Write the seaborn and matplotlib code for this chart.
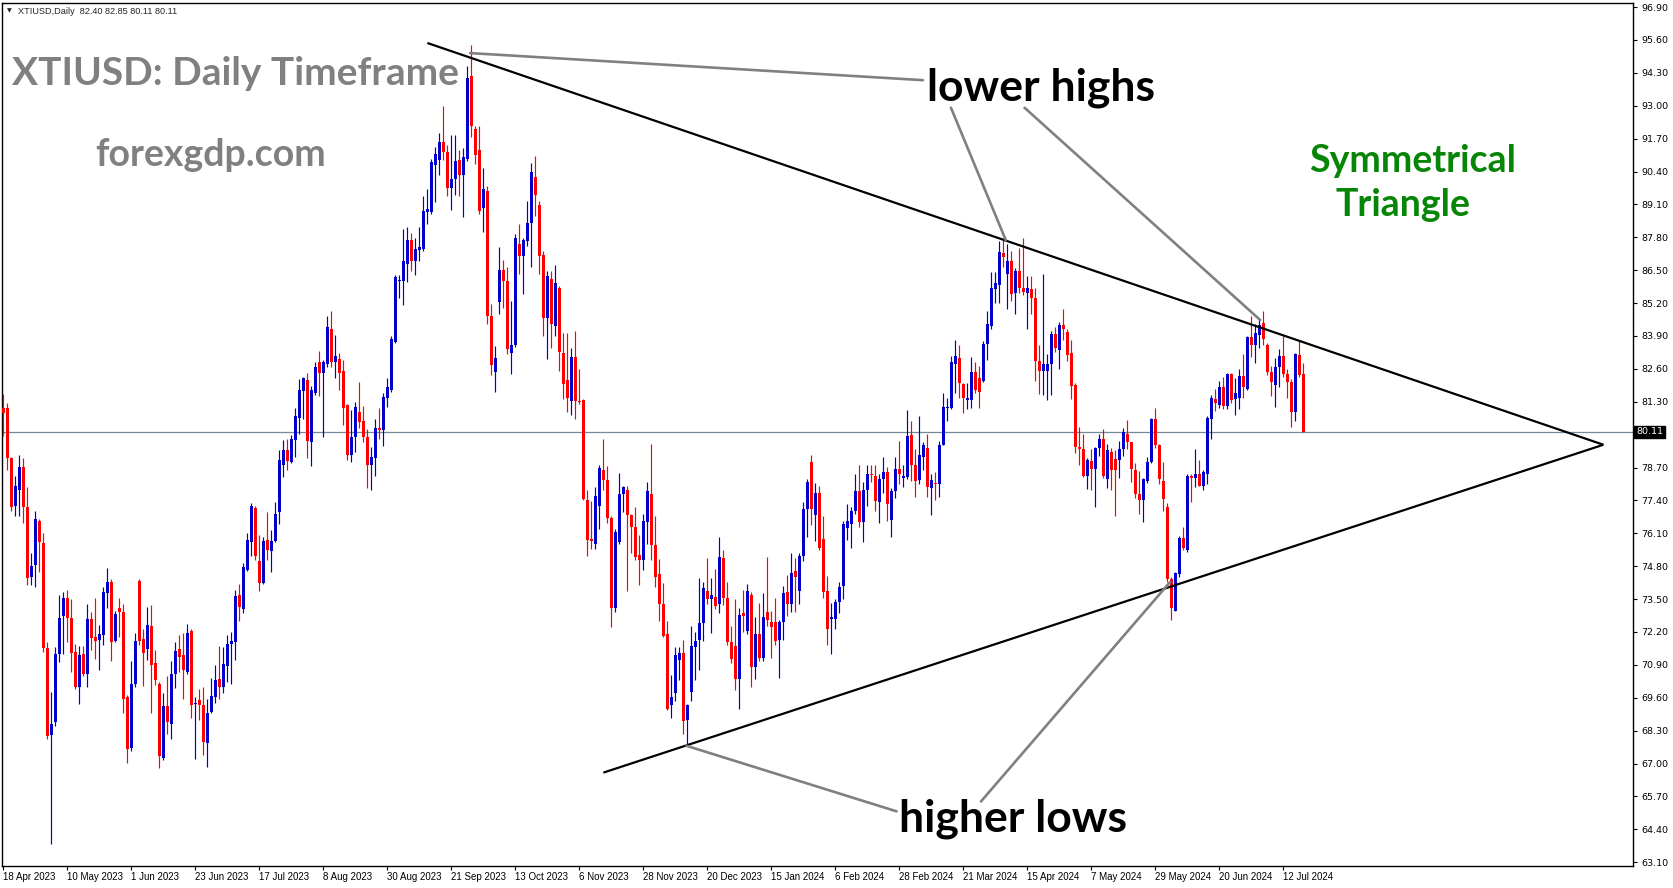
import numpy as np
import pandas as pd
import matplotlib
matplotlib.use("Agg")
import matplotlib.pyplot as plt
import matplotlib.transforms as mtransforms
import seaborn as sns

# ---------------- data ----------------
opens = [
    81.04, 81.04, 79.06, 77.19, 77.82, 78.71, 77.15, 74.39, 74.85, 76.59,
    75.70, 71.55, 68.12, 68.66, 71.34, 72.83, 73.54, 72.77, 71.42, 70.03,
    71.32, 70.55, 72.73, 72.00, 71.90, 72.07, 73.73, 74.18, 71.86, 73.15,
    72.98, 69.61, 67.60, 70.13, 74.22, 71.94, 71.53, 72.42, 70.96, 70.13,
    67.23, 69.26, 68.58, 70.55, 71.53, 71.28, 70.61, 72.25, 69.37, 69.51,
    69.30, 67.81, 69.05, 69.61, 70.34, 70.03, 70.86, 71.73, 71.80, 73.66,
    73.10, 74.66, 75.74, 77.09, 75.01, 74.14, 75.84, 75.39, 75.80, 76.95,
    78.81, 79.38, 78.90, 79.79, 80.66, 81.72, 82.14, 79.69, 81.66, 82.86,
    82.45, 82.80, 84.19, 82.88, 82.99, 82.53, 81.18, 79.21, 79.92, 80.89,
    80.52, 79.92, 78.81, 79.08, 80.27, 80.17, 81.45, 81.76, 83.67, 86.06,
    86.06, 86.75, 87.70, 86.85, 87.31, 87.33, 88.80, 88.78, 90.67, 90.84,
    91.55, 91.19, 89.74, 90.09, 90.86, 90.26, 90.88, 94.16, 92.09, 91.25,
    88.97, 89.63, 84.67, 82.49, 85.25, 86.52, 86.06, 83.22, 83.53, 87.52,
    87.06, 87.64, 88.35, 90.17, 89.07, 87.10, 84.61, 86.17, 84.30, 85.79,
    83.22, 82.14, 81.33, 83.05, 81.33, 81.35, 77.40, 75.88, 75.68, 77.19,
    78.59, 78.19, 76.72, 73.15, 75.74, 77.65, 77.80, 76.82, 76.34, 75.26,
    75.05, 76.53, 77.67, 75.64, 74.50, 73.29, 72.11, 69.30, 69.78, 71.11,
    71.38, 68.74, 69.82, 71.59, 71.90, 72.56, 73.81, 73.50, 73.60, 73.31,
    75.12, 73.56, 71.80, 71.65, 70.34, 72.94, 72.25, 73.66, 70.82, 72.11,
    71.17, 72.98, 72.59, 72.59, 71.90, 72.59, 73.77, 73.31, 74.60, 73.81,
    75.22, 77.05, 78.92, 76.84, 77.71, 75.88, 73.81, 72.73, 72.73, 73.39,
    74.02, 76.32, 76.47, 76.99, 77.76, 76.53, 77.82, 78.44, 78.38, 77.34,
    78.23, 78.54, 76.63, 77.76, 78.65, 78.30, 78.34, 80.00, 78.79, 78.19,
    79.13, 79.48, 77.88, 78.09, 78.03, 79.58, 81.04, 81.04, 82.80, 83.01,
    82.01, 81.35, 81.35, 82.49, 82.24, 82.12, 83.57, 84.30, 85.77, 85.92,
    87.16, 86.33, 86.85, 85.61, 86.48, 85.81, 85.61, 85.77, 85.40, 82.90,
    82.53, 82.53, 82.80, 83.99, 83.36, 84.32, 84.05, 83.22, 81.97, 79.52,
    79.44, 78.38, 78.96, 78.65, 79.48, 79.83, 78.23, 79.33, 79.02, 79.00,
    79.42, 80.04, 79.69, 78.59, 77.67, 77.40, 78.17, 78.92, 80.62, 79.58,
    78.17, 77.15, 74.29, 73.04, 74.50, 75.91, 75.43, 78.38, 78.30, 78.44,
    77.96, 78.44, 80.62, 81.39, 81.18, 81.87, 81.14, 82.39, 81.39, 81.45,
    82.33, 81.80, 83.84, 83.53, 83.95, 84.40, 83.53, 82.49, 81.97, 82.66,
    83.11, 82.39, 82.07, 80.89, 83.16, 82.40,
]
highs = [
    81.60, 81.24, 79.10, 78.38, 79.21, 79.06, 77.92, 75.33, 76.99, 76.68,
    76.11, 71.80, 69.82, 71.59, 73.66, 73.77, 73.87, 73.52, 71.73, 71.65,
    71.65, 73.31, 72.98, 73.56, 72.48, 73.98, 74.72, 74.29, 73.04, 73.56,
    73.31, 69.72, 71.07, 72.15, 74.29, 72.32, 73.19, 73.25, 71.48, 70.24,
    69.78, 70.45, 71.07, 71.80, 72.07, 72.15, 72.52, 72.32, 69.61, 69.93,
    70.03, 69.57, 70.40, 70.90, 71.65, 71.59, 72.07, 72.21, 73.87, 74.08,
    74.91, 76.11, 77.30, 77.19, 76.05, 75.95, 76.93, 76.22, 77.34, 79.38,
    79.79, 79.83, 80.00, 81.04, 82.18, 82.28, 82.45, 81.91, 82.86, 83.32,
    82.95, 84.67, 84.88, 83.94, 83.22, 82.95, 81.20, 80.97, 81.29, 82.08,
    81.12, 80.21, 79.52, 80.62, 81.04, 81.66, 82.24, 83.90, 86.29, 86.29,
    88.14, 88.20, 87.95, 87.78, 88.20, 89.43, 89.70, 90.90, 91.38, 91.94,
    92.98, 91.46, 91.84, 91.84, 91.25, 91.32, 94.58, 95.41, 92.19, 92.19,
    90.55, 89.82, 85.15, 83.49, 87.41, 86.89, 86.64, 85.27, 87.93, 88.31,
    87.79, 89.24, 90.74, 91.01, 89.24, 87.27, 86.48, 86.48, 86.71, 85.86,
    84.03, 84.03, 83.42, 84.11, 82.61, 81.41, 77.82, 77.36, 77.92, 78.79,
    79.83, 78.75, 76.78, 76.26, 78.50, 77.98, 77.96, 76.88, 77.13, 76.05,
    76.88, 78.13, 79.63, 76.78, 75.08, 74.12, 72.63, 70.49, 71.59, 71.59,
    71.90, 69.34, 72.42, 72.21, 74.33, 74.18, 75.12, 74.35, 74.70, 75.95,
    75.43, 74.18, 72.42, 73.52, 73.15, 73.87, 74.08, 73.77, 72.79, 73.35,
    73.73, 75.18, 73.04, 73.56, 72.69, 74.02, 74.45, 75.33, 75.12, 75.33,
    77.34, 78.23, 79.21, 78.09, 77.96, 76.78, 74.43, 73.35, 73.52, 74.18,
    76.57, 77.26, 77.13, 78.44, 78.79, 78.13, 78.79, 78.79, 78.79, 78.44,
    79.13, 78.71, 77.88, 79.13, 79.75, 78.79, 80.97, 80.52, 79.42, 80.73,
    79.69, 80.04, 78.44, 78.54, 79.75, 81.66, 81.45, 83.11, 83.74, 83.53,
    82.03, 82.03, 83.07, 82.86, 82.70, 83.70, 84.88, 86.44, 86.44, 87.64,
    87.72, 87.52, 87.27, 86.58, 87.37, 87.79, 86.27, 86.27, 85.81, 83.53,
    86.33, 83.18, 84.11, 84.26, 84.46, 84.98, 84.19, 83.74, 82.03, 80.31,
    80.04, 79.06, 79.42, 79.52, 80.04, 80.21, 79.63, 79.48, 79.38, 79.75,
    80.25, 80.58, 79.69, 78.86, 78.55, 78.28, 79.13, 80.66, 81.04, 79.63,
    78.92, 77.30, 74.39, 74.56, 75.99, 76.36, 78.44, 78.44, 79.44, 79.00,
    78.59, 80.73, 81.56, 81.80, 82.12, 82.28, 82.43, 82.43, 82.24, 82.59,
    83.18, 83.90, 84.67, 84.36, 84.61, 84.88, 83.63, 82.70, 83.01, 83.38,
    83.90, 82.59, 82.18, 83.22, 83.74, 82.85,
]
lows = [
    79.96, 78.59, 76.99, 76.78, 76.78, 76.51, 74.04, 74.04, 73.98, 74.56,
    71.42, 67.95, 63.80, 68.47, 71.03, 71.32, 71.80, 70.61, 69.93, 69.37,
    70.45, 70.03, 71.48, 71.13, 70.69, 71.69, 73.15, 71.07, 71.80, 72.00,
    68.99, 67.02, 67.48, 70.03, 71.69, 70.07, 71.11, 68.99, 70.09, 66.81,
    67.12, 68.16, 67.95, 69.99, 70.61, 69.57, 70.55, 68.78, 67.17, 68.74,
    67.33, 66.87, 68.99, 69.41, 69.57, 69.78, 70.24, 70.13, 71.11, 72.63,
    72.94, 74.60, 75.22, 75.05, 73.83, 74.08, 75.05, 74.56, 75.74, 76.47,
    78.34, 78.59, 78.86, 79.13, 80.04, 80.62, 79.06, 78.75, 81.56, 81.51,
    79.92, 82.66, 82.66, 82.24, 81.76, 80.37, 79.00, 78.92, 79.33, 80.27,
    79.71, 77.90, 77.80, 78.38, 79.81, 79.54, 81.08, 81.70, 83.61, 85.40,
    85.13, 86.02, 86.48, 86.29, 86.85, 87.27, 88.31, 88.74, 89.20, 90.28,
    90.84, 89.45, 88.87, 89.47, 89.43, 88.60, 90.80, 91.75, 90.69, 88.72,
    87.99, 84.36, 82.35, 81.68, 84.78, 85.02, 83.18, 82.39, 83.47, 86.33,
    85.56, 87.45, 86.64, 88.66, 86.33, 83.90, 82.99, 83.43, 83.90, 82.53,
    81.39, 80.89, 80.77, 80.62, 81.20, 77.40, 75.22, 75.47, 75.47, 76.26,
    77.82, 76.51, 72.38, 72.98, 75.68, 76.93, 73.81, 75.33, 75.05, 74.04,
    74.66, 75.68, 75.05, 73.98, 72.63, 72.00, 69.10, 68.78, 69.47, 70.30,
    68.16, 67.70, 69.47, 70.30, 70.69, 71.86, 73.31, 72.17, 73.10, 72.94,
    73.25, 71.69, 70.96, 69.89, 69.14, 72.21, 72.11, 70.03, 70.34, 71.07,
    71.07, 72.42, 71.17, 71.69, 70.40, 71.90, 72.83, 73.00, 72.98, 73.31,
    75.01, 75.95, 76.42, 75.78, 75.43, 73.56, 71.69, 71.34, 72.32, 72.94,
    73.52, 75.84, 75.53, 76.88, 76.36, 75.74, 77.19, 78.13, 76.99, 76.51,
    77.71, 76.57, 75.95, 77.51, 78.03, 77.92, 78.23, 78.17, 77.55, 78.03,
    78.59, 77.55, 76.84, 77.40, 77.55, 79.58, 80.52, 81.00, 81.66, 81.45,
    80.87, 81.00, 81.04, 81.66, 81.04, 82.07, 82.95, 84.19, 85.19, 85.19,
    86.64, 84.98, 85.30, 84.78, 85.61, 85.50, 84.19, 84.78, 82.12, 81.62,
    81.56, 81.35, 81.56, 83.28, 82.59, 83.74, 82.90, 81.41, 79.27, 78.79,
    78.34, 77.86, 77.82, 77.15, 79.17, 78.30, 77.88, 77.82, 76.78, 78.30,
    79.17, 79.42, 78.13, 77.51, 76.88, 76.53, 78.09, 78.86, 79.48, 78.03,
    76.99, 74.18, 72.69, 73.04, 74.39, 75.43, 75.37, 77.34, 77.92, 77.96,
    77.82, 78.03, 79.83, 80.93, 81.04, 81.00, 81.00, 81.24, 80.79, 81.00,
    81.45, 81.76, 83.07, 82.84, 83.42, 83.53, 82.35, 81.51, 81.08, 81.87,
    82.28, 81.45, 80.31, 80.52, 82.28, 80.11,
]
closes = [
    80.87, 79.06, 77.15, 77.96, 78.71, 77.15, 74.35, 74.81, 76.68, 75.74,
    71.55, 68.10, 68.58, 71.32, 72.77, 73.54, 72.77, 71.38, 70.03, 71.28,
    70.55, 72.73, 71.96, 71.84, 72.11, 73.77, 74.18, 71.80, 72.90, 72.98,
    69.57, 67.58, 70.13, 71.86, 71.86, 71.38, 72.46, 70.90, 70.30, 67.29,
    69.26, 68.64, 70.55, 71.44, 71.23, 70.69, 72.15, 69.30, 69.41, 69.30,
    67.85, 68.99, 69.66, 70.32, 70.03, 70.94, 71.73, 71.84, 73.62, 73.19,
    74.77, 75.84, 77.19, 75.22, 74.12, 75.78, 75.43, 75.80, 76.88, 79.00,
    79.38, 78.96, 79.83, 80.72, 81.78, 82.24, 79.75, 81.76, 82.66, 82.45,
    82.86, 84.24, 82.86, 83.09, 82.45, 81.04, 79.21, 79.92, 81.10, 80.48,
    79.92, 78.79, 79.13, 80.27, 80.17, 81.49, 81.87, 83.78, 86.23, 86.12,
    86.87, 87.70, 86.85, 87.35, 87.41, 88.85, 88.93, 90.76, 91.09, 91.55,
    91.19, 89.76, 90.09, 90.82, 90.28, 90.99, 94.10, 92.19, 91.07, 88.83,
    89.72, 84.69, 82.74, 83.01, 86.52, 86.06, 83.38, 83.53, 87.79, 87.06,
    87.68, 88.37, 90.38, 89.49, 87.06, 84.61, 86.27, 84.36, 86.00, 83.28,
    82.01, 81.45, 83.05, 81.31, 81.29, 77.47, 75.84, 75.80, 77.59, 78.67,
    78.19, 76.72, 73.15, 76.16, 77.65, 77.92, 76.84, 76.36, 75.16, 75.05,
    76.57, 77.76, 75.64, 74.39, 73.29, 72.04, 69.16, 69.61, 71.28, 71.38,
    68.68, 69.30, 71.65, 71.84, 72.56, 73.93, 73.50, 73.66, 73.21, 75.18,
    73.56, 71.80, 71.13, 70.34, 72.88, 72.83, 73.81, 70.80, 72.11, 71.17,
    72.79, 72.69, 72.38, 71.84, 72.59, 73.73, 73.31, 74.54, 74.39, 75.22,
    77.05, 78.13, 77.05, 77.71, 75.53, 73.77, 72.32, 72.79, 73.39, 73.98,
    76.45, 76.57, 76.99, 77.76, 76.53, 77.82, 78.44, 78.40, 77.36, 78.23,
    78.54, 77.26, 77.76, 78.65, 78.44, 78.38, 79.94, 78.79, 78.17, 79.21,
    79.58, 77.92, 78.19, 78.03, 79.58, 81.08, 81.10, 82.86, 83.11, 82.03,
    81.45, 81.45, 82.49, 81.76, 81.70, 83.57, 84.36, 85.81, 85.98, 87.21,
    87.02, 86.85, 85.54, 86.48, 85.81, 85.65, 85.81, 85.40, 82.90, 82.53,
    82.80, 82.80, 83.99, 83.42, 84.32, 84.19, 83.16, 81.93, 79.52, 79.44,
    78.38, 79.00, 78.65, 79.48, 79.83, 78.38, 79.38, 78.59, 78.59, 79.44,
    80.10, 79.69, 78.65, 77.67, 77.40, 78.23, 78.92, 80.62, 79.58, 78.23,
    77.44, 74.29, 73.15, 74.54, 75.91, 75.53, 78.38, 78.28, 78.44, 77.98,
    78.54, 80.66, 81.45, 81.24, 81.87, 81.14, 82.39, 81.35, 81.66, 82.33,
    81.87, 83.84, 83.53, 84.01, 84.32, 83.78, 82.49, 82.07, 82.66, 83.11,
    82.39, 82.07, 80.89, 83.18, 82.35, 80.11,
]

date_labels = ["18 Apr 2023", "10 May 2023", "1 Jun 2023", "23 Jun 2023",
               "17 Jul 2023", "8 Aug 2023", "30 Aug 2023", "21 Sep 2023",
               "13 Oct 2023", "6 Nov 2023", "28 Nov 2023", "20 Dec 2023",
               "15 Jan 2024", "6 Feb 2024", "28 Feb 2024", "21 Mar 2024",
               "15 Apr 2024", "7 May 2024", "29 May 2024", "20 Jun 2024",
               "12 Jul 2024"]
price_tick_labels = ["96.90", "95.60", "94.30", "93.00", "91.70", "90.40",
                     "89.10", "87.80", "86.50", "85.20", "83.90", "82.60",
                     "81.30", "80.00", "78.70", "77.40", "76.10", "74.80",
                     "73.50", "72.20", "70.90", "69.60", "68.30", "67.00",
                     "65.70", "64.40", "63.10"]

# trend lines (bar index, price)
upper_line_x = [106.0, 400.0]
upper_line_y = [95.48, 79.60]
lower_line_x = [150.0, 400.0]
lower_line_y = [66.64, 79.60]
# grey pointer lines
pointer_lines = {
    "lh1": ([116.7, 229.9], [95.08, 94.01]),
    "lh2": ([236.9, 250.6], [92.92, 87.69]),
    "lh3": ([255.3, 314.2], [92.92, 84.53]),
    "hl1": ([170.8, 223.3], [67.70, 65.11]),
    "hl2": ([244.4, 291.7], [65.50, 74.18]),
}

# ---------------- styling ----------------
sns.set_theme(style="white")
plt.rcParams['font.family'] = ['DejaVu Sans']

W, H = 1673, 888
fig = plt.figure(figsize=(W / 100, H / 100), dpi=100)
fig.patch.set_facecolor("white")
ax = fig.add_axes([2 / W, 1 - 866 / H, 1631 / W, 863 / H])
ax.set_facecolor("white")

BLUE = "#0000CD"
RED = "#FF0000"

df = pd.DataFrame({"open": opens, "high": highs, "low": lows, "close": closes})
df["bar"] = np.arange(len(df))
df["up"] = df["close"] >= df["open"]
cols = np.where(df["up"], BLUE, RED)

ax.vlines(df["bar"], df["low"], df["high"], colors=cols, linewidth=0.85, zorder=3)
body_bottom = np.minimum(df["open"], df["close"])
body_h = np.maximum((df["close"] - df["open"]).abs(), 0.04)
ax.bar(df["bar"], body_h, bottom=body_bottom, width=0.72, color=cols,
       linewidth=0, zorder=4)

# current price line
ax.axhline(closes[-1], color="#778899", lw=0.9, zorder=2)

# trend lines
ax.plot(upper_line_x, upper_line_y, color="black", lw=1.6, zorder=5,
        solid_capstyle="butt")
ax.plot(lower_line_x, lower_line_y, color="black", lw=1.6, zorder=5,
        solid_capstyle="butt")
for xs, ys in pointer_lines.values():
    ax.plot(xs, ys, color="#808080", lw=1.9, zorder=6)

ax.set_xlim(-0.33, 407.4)
ax.set_ylim(62.95, 97.06)

for s in ax.spines.values():
    s.set_color("black")
    s.set_linewidth(1.0)
    s.set_visible(True)

# the 80.00 label is hidden behind the current-price box in the reference
shown_labels = ["" if lab == "80.00" else lab for lab in price_tick_labels]
ax.yaxis.tick_right()
ax.set_yticks([float(v) for v in price_tick_labels])
ax.set_yticklabels(shown_labels)
ax.tick_params(axis="y", which="both", right=True, left=False, length=3,
               width=0.8, direction="out", pad=3, labelsize=6.8,
               colors="black")
label_bars = list(range(0, 16 * len(date_labels), 16))
ax.set_xticks(label_bars)
ax.set_xticklabels(date_labels, ha="left", fontfamily="Liberation Sans")
ax.tick_params(axis="x", bottom=True, length=3, width=0.8, direction="out",
               pad=1.5, labelsize=7, colors="black")
ax.grid(False)

# price label box
tr = mtransforms.blended_transform_factory(fig.transFigure, ax.transData)
fig.text(1636 / W, closes[-1], f"{closes[-1]:.2f}", transform=tr, ha="left",
         va="center", color="white", fontsize=6.8,
         bbox=dict(facecolor="black", edgecolor="black", pad=1.2))

# header
fig.text(7 / W, 1 - 11 / H, "\u25BC", fontsize=4.5, va="center", ha="left")
fig.text(18 / W, 1 - 11 / H,
         f"XTIUSD,Daily  {opens[-1]:.2f} {highs[-1]:.2f} {lows[-1]:.2f} {closes[-1]:.2f}",
         fontsize=6.6, va="center", ha="left", fontfamily="Liberation Sans")

def ftext(px, py, s, **kw):
    fig.text(px / W, 1 - py / H, s, **kw)

big = dict(fontfamily="Lato", fontweight="bold")
ftext(12, 85, "XTIUSD: Daily Timeframe", color="#808080", fontsize=28,
      ha="left", va="baseline", **big)
ftext(211, 166, "forexgdp.com", color="#808080", fontsize=27,
      ha="center", va="baseline", **big)
ftext(1041, 101, "lower highs", color="black", fontsize=32,
      ha="center", va="baseline", **big)
ftext(1013, 831, "higher lows", color="black", fontsize=32,
      ha="center", va="baseline", **big)
ftext(1413, 172, "Symmetrical", color="#078507", fontsize=27,
      ha="center", va="baseline", **big)
ftext(1403, 216, "Triangle", color="#078507", fontsize=27,
      ha="center", va="baseline", **big)

fig.savefig("out.png", dpi=100, facecolor="white")
